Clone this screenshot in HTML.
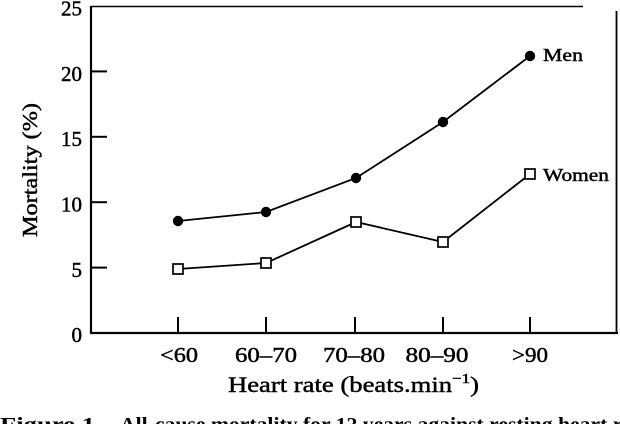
<!DOCTYPE html>
<html>
<head>
<meta charset="utf-8">
<style>
  html, body { margin: 0; padding: 0; background: #fff; }
  body { width: 620px; height: 424px; overflow: hidden; }
  svg { display: block; }
  text { font-family: "Liberation Serif", "DejaVu Serif", serif; fill: #000; }
  .b { stroke: #000; stroke-width: 0.45; }
</style>
</head>
<body>
<svg width="620" height="424" viewBox="0 0 620 424" xmlns="http://www.w3.org/2000/svg">
  <rect x="0" y="0" width="620" height="424" fill="#fff"/>

  <!-- frame -->
  <line x1="91" y1="6" x2="91" y2="334" stroke="#000" stroke-width="2.2"/>
  <line x1="90" y1="333" x2="618" y2="333" stroke="#000" stroke-width="2.2"/>
  <line x1="91" y1="6.5" x2="583" y2="6.5" stroke="#000" stroke-width="1.6"/>
  <line x1="616.5" y1="11" x2="616.5" y2="334" stroke="#000" stroke-width="1.8"/>

  <!-- y ticks -->
  <g stroke="#000" stroke-width="2">
    <line x1="91" y1="267.6" x2="107" y2="267.6"/>
    <line x1="91" y1="202.2" x2="107" y2="202.2"/>
    <line x1="91" y1="136.8" x2="107" y2="136.8"/>
    <line x1="91" y1="71.4" x2="107" y2="71.4"/>
  </g>
  <!-- x ticks -->
  <g stroke="#000" stroke-width="2">
    <line x1="178" y1="333" x2="178" y2="317"/>
    <line x1="266" y1="333" x2="266" y2="317"/>
    <line x1="355" y1="333" x2="355" y2="317"/>
    <line x1="443" y1="333" x2="443" y2="317"/>
    <line x1="530" y1="333" x2="530" y2="317"/>
  </g>

  <!-- y tick labels -->
  <g font-size="21" text-anchor="end" class="b">
    <text x="82" y="342">0</text>
    <text x="82" y="277">5</text>
    <text x="82" y="211.5">10</text>
    <text x="82" y="146">15</text>
    <text x="82" y="81">20</text>
    <text x="82" y="15.5">25</text>
  </g>

  <!-- y axis title -->
  <text class="b" transform="translate(37,170) rotate(-90)" font-size="21" text-anchor="middle" textLength="134" lengthAdjust="spacingAndGlyphs">Mortality (%)</text>

  <!-- x tick labels -->
  <g font-size="21" text-anchor="middle" class="b">
    <text x="179" y="362" textLength="38" lengthAdjust="spacingAndGlyphs">&lt;60</text>
    <text x="266" y="362" textLength="62" lengthAdjust="spacingAndGlyphs">60–70</text>
    <text x="354" y="362" textLength="62" lengthAdjust="spacingAndGlyphs">70–80</text>
    <text x="437" y="362" textLength="63" lengthAdjust="spacingAndGlyphs">80–90</text>
    <text x="530" y="362" textLength="36" lengthAdjust="spacingAndGlyphs">&gt;90</text>
  </g>

  <!-- x axis title -->
  <text class="b" x="228" y="392" font-size="22" textLength="251" lengthAdjust="spacingAndGlyphs">Heart rate (beats.min<tspan dy="-9" font-size="14">−1</tspan><tspan dy="9">)</tspan></text>

  <!-- Men series -->
  <polyline points="178,221 266,212 356,178 443,122 530,56" fill="none" stroke="#000" stroke-width="1.8"/>
  <g fill="#000">
    <circle cx="178" cy="221" r="5.2"/>
    <circle cx="266" cy="212" r="5.2"/>
    <circle cx="356" cy="178" r="5.2"/>
    <circle cx="443" cy="122" r="5.2"/>
    <circle cx="530" cy="56" r="5.2"/>
  </g>

  <!-- Women series -->
  <polyline points="178,269 266,263 356,222 443,242 530,174" fill="none" stroke="#000" stroke-width="1.8"/>
  <g fill="#fff" stroke="#000" stroke-width="1.7">
    <rect x="173" y="264" width="10" height="10"/>
    <rect x="261" y="258" width="10" height="10"/>
    <rect x="351" y="217" width="10" height="10"/>
    <rect x="438" y="237" width="10" height="10"/>
    <rect x="525" y="169" width="10" height="10"/>
  </g>

  <!-- series labels -->
  <text class="b" x="543" y="61" font-size="18" textLength="40" lengthAdjust="spacingAndGlyphs">Men</text>
  <text class="b" x="543" y="181" font-size="18" textLength="66" lengthAdjust="spacingAndGlyphs">Women</text>

  <!-- caption (clipped at bottom) -->
  <text x="0" y="431" font-size="20" font-weight="bold" textLength="95" lengthAdjust="spacingAndGlyphs">Figure 1</text>
  <text x="120" y="431" font-size="20" font-weight="bold" textLength="530" lengthAdjust="spacingAndGlyphs">All-cause mortality for 12 years against resting heart rate</text>
</svg>
</body>
</html>
